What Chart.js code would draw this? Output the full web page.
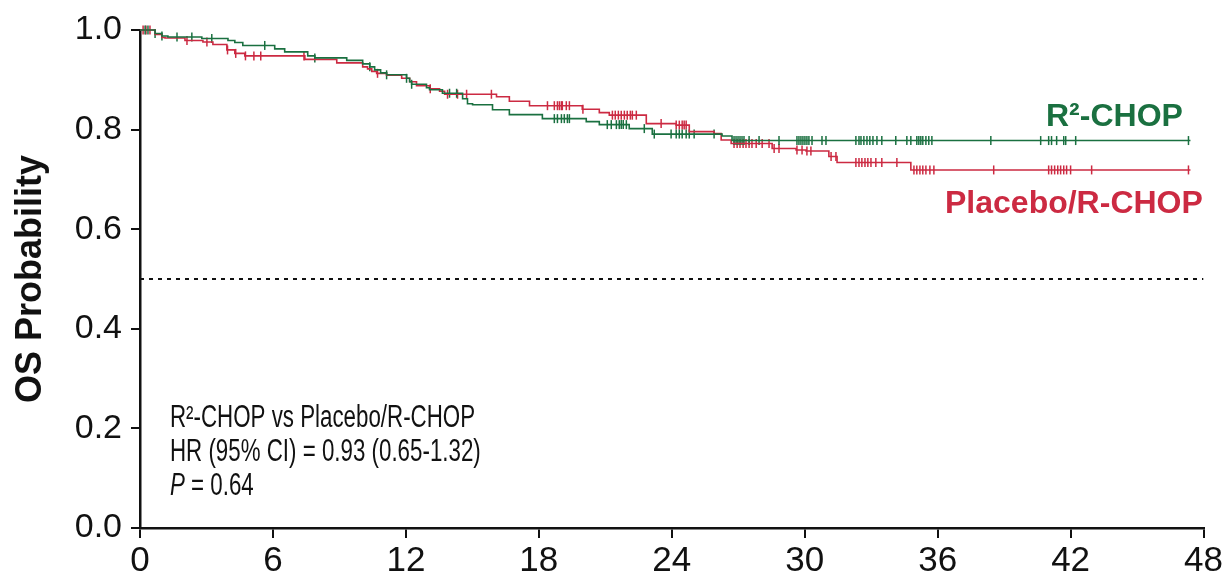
<!DOCTYPE html>
<html>
<head>
<meta charset="utf-8">
<script src="https://cdn.jsdelivr.net/npm/chart.js@4/dist/chart.umd.min.js"></script>
<style>
  html, body { margin: 0; padding: 0; background: #ffffff; }
  #wrap { width: 1225px; height: 581px; }
</style>
</head>
<body>
<div id="wrap"><canvas id="km" width="1225" height="581"></canvas></div>
<script>
// Kaplan-Meier overall survival, months since randomisation.
// Event times (months) and survival probability after each step.
const r2chopTimes = [0, 0.68, 0.99, 1.26, 2.79, 3.97, 4.28, 4.64, 6.08, 6.53, 7.57, 7.89, 9.33, 10.05, 10.37, 10.59, 10.86, 11.13, 12.03, 12.17, 12.26, 12.93, 13.07, 13.65, 14.56, 14.78, 15.01, 15.91, 16.67, 18.16, 20.14, 20.73, 22.08, 23.12, 26.27, 26.72, 47.41];
const r2chopSurv  = [1.0, 0.993, 0.988, 0.986, 0.983, 0.979, 0.975, 0.969, 0.962, 0.956, 0.948, 0.944, 0.939, 0.932, 0.926, 0.920, 0.914, 0.910, 0.903, 0.896, 0.891, 0.884, 0.880, 0.873, 0.862, 0.852, 0.850, 0.840, 0.830, 0.822, 0.816, 0.810, 0.802, 0.791, 0.787, 0.778, 0.778];

const placeboTimes = [0, 0.68, 0.99, 1.13, 2.03, 2.84, 3.29, 3.92, 4.28, 4.73, 7.44, 8.88, 10.05, 10.27, 10.46, 10.68, 11.13, 11.81, 12.17, 12.48, 13.07, 13.52, 13.75, 16.09, 16.67, 17.58, 19.96, 20.73, 21.18, 22.85, 24.20, 24.79, 25.91, 26.23, 26.68, 28.53, 29.61, 30.06, 31.09, 31.46, 34.79, 47.41];
const placeboSurv  = [1.0, 0.991, 0.985, 0.984, 0.979, 0.976, 0.971, 0.960, 0.953, 0.948, 0.941, 0.934, 0.926, 0.922, 0.917, 0.913, 0.909, 0.903, 0.896, 0.888, 0.882, 0.877, 0.871, 0.866, 0.857, 0.848, 0.841, 0.834, 0.829, 0.812, 0.809, 0.796, 0.792, 0.779, 0.772, 0.762, 0.759, 0.757, 0.746, 0.734, 0.719, 0.719];

// Censoring times (months)
const r2chopCensor = [0.23, 0.36, 0.68, 0.99, 1.67, 2.34, 3.24, 5.63, 7.89, 10.37, 11.13, 12.03, 12.26, 13.97, 14.29, 18.70, 18.84, 19.02, 19.15, 19.29, 19.38, 21.09, 21.27, 21.50, 21.63, 21.72, 21.81, 21.95, 22.76, 23.21, 23.97, 24.20, 24.34, 24.47, 24.65, 24.79, 25.01, 25.91, 26.81, 26.90, 26.99, 27.08, 27.17, 27.26, 27.49, 27.94, 28.84, 29.65, 29.74, 29.83, 29.92, 30.01, 30.10, 30.19, 30.33, 30.78, 30.96, 32.31, 32.45, 32.54, 32.67, 32.81, 32.94, 33.08, 33.26, 33.48, 34.11, 34.61, 34.79, 35.06, 35.15, 35.24, 35.33, 35.47, 35.60, 35.74, 38.40, 40.65, 41.01, 41.14, 41.37, 41.69, 41.78, 42.23, 47.32];
const placeboCensor = [0.14, 0.27, 0.45, 2.12, 3.02, 3.95, 4.32, 4.76, 5.14, 5.45, 7.40, 10.72, 13.10, 13.88, 14.33, 14.74, 15.86, 18.39, 18.70, 18.84, 18.93, 19.02, 19.06, 19.24, 19.38, 19.99, 21.32, 21.45, 21.59, 21.72, 21.86, 21.99, 22.13, 22.22, 22.40, 23.52, 24.20, 24.34, 24.47, 24.56, 24.65, 26.81, 26.95, 27.08, 27.22, 27.35, 27.49, 27.62, 27.81, 28.08, 28.39, 28.62, 28.84, 29.65, 29.88, 30.10, 30.28, 31.19, 31.41, 32.31, 32.45, 32.58, 32.72, 32.85, 32.99, 33.21, 33.48, 34.16, 34.93, 35.06, 35.20, 35.33, 35.47, 35.65, 35.83, 38.53, 41.01, 41.14, 41.28, 41.42, 41.55, 41.69, 41.82, 42.00, 42.95, 47.32];

const xTickValues = [0, 6, 12, 18, 24, 30, 36, 42, 48];
const yTickValues = [0, 0.2, 0.4, 0.6, 0.8, 1.0];
const medianLine = 0.5;

const GREEN = '#1a7040';
const RED = '#cc2a42';
const INK = '#111111';
const FONT = '"Liberation Sans", Arial, Helvetica, sans-serif';

function curvePoints(times, surv) {
  return times.map((t, i) => ({ x: t, y: surv[i] }));
}
// survival level of a curve at time t (value after the last step at or before t)
function survAt(times, surv, t) {
  let s = surv[0];
  for (let i = 0; i < times.length; i++) {
    if (times[i] <= t) s = surv[i]; else break;
  }
  return s;
}
function censorPoints(cens, times, surv) {
  return cens.map(t => ({ x: t, y: survAt(times, surv, t) }));
}

// Text drawn on top of the plot: arm labels and HR box
const annotations = {
  id: 'kmText',
  afterDraw(chart) {
    const ctx = chart.ctx;
    ctx.save();
    ctx.textBaseline = 'alphabetic';
    ctx.textAlign = 'left';

    ctx.font = 'bold 32px ' + FONT;
    ctx.fillStyle = GREEN;
    ctx.fillText('R²-CHOP', 1046, 126);
    ctx.fillStyle = RED;
    ctx.fillText('Placebo/R-CHOP', 945, 213);

    // condensed statistics block
    const sx = 0.72;
    const drawLine = (parts, x, y) => {
      ctx.save();
      ctx.translate(x, y);
      ctx.scale(sx, 1);
      let cx = 0;
      for (const p of parts) {
        ctx.font = p.font;
        ctx.fillText(p.text, cx, 0);
        cx += ctx.measureText(p.text).width;
      }
      ctx.restore();
    };
    ctx.fillStyle = INK;
    const reg = '31px ' + FONT;
    drawLine([{ text: 'R²-CHOP vs Placebo/R-CHOP', font: reg }], 170, 427);
    drawLine([{ text: 'HR (95% CI) = 0.93 (0.65-1.32)', font: reg }], 170, 461);
    drawLine([{ text: 'P', font: 'italic 31px ' + FONT }, { text: ' = 0.64', font: reg }], 170, 495);
    ctx.restore();
  }
};

new Chart(document.getElementById('km'), {
  type: 'scatter',
  data: {
    datasets: [
      {
        label: 'R²-CHOP',
        data: curvePoints(r2chopTimes, r2chopSurv),
        showLine: true, stepped: 'before',
        borderColor: GREEN, borderWidth: 1.6,
        pointRadius: 0, clip: false
      },
      {
        label: 'Placebo/R-CHOP',
        data: curvePoints(placeboTimes, placeboSurv),
        showLine: true, stepped: 'before',
        borderColor: RED, borderWidth: 1.6,
        pointRadius: 0, clip: false
      },
      {
        label: 'R²-CHOP censored',
        data: censorPoints(r2chopCensor, r2chopTimes, r2chopSurv),
        showLine: false,
        pointStyle: 'line', rotation: 90, pointRadius: 4.5,
        borderColor: GREEN, pointBorderWidth: 1.5, clip: false
      },
      {
        label: 'Placebo/R-CHOP censored',
        data: censorPoints(placeboCensor, placeboTimes, placeboSurv),
        showLine: false,
        pointStyle: 'line', rotation: 90, pointRadius: 4.5,
        borderColor: RED, pointBorderWidth: 1.5, clip: false
      },
      {
        label: 'median',
        data: [{ x: xTickValues[0], y: medianLine }, { x: xTickValues[xTickValues.length - 1], y: medianLine }],
        showLine: true, borderColor: INK, borderWidth: 2, borderDash: [4, 5],
        pointRadius: 0
      }
    ]
  },
  options: {
    responsive: false,
    animation: false,
    devicePixelRatio: 1,
    layout: { padding: { top: 30, right: 20, bottom: 0, left: 0 } },
    plugins: { legend: { display: false }, tooltip: { enabled: false } },
    scales: {
      x: {
        type: 'linear', min: 0, max: 48,
        afterFit(scale) { scale.height = 53; },
        afterBuildTicks(scale) { scale.ticks = xTickValues.map(v => ({ value: v })); },
        ticks: { color: INK, font: { family: FONT, size: 35 }, padding: 2, maxRotation: 0, autoSkip: false },
        grid: { drawOnChartArea: false, drawTicks: true, tickLength: 10, color: INK, lineWidth: 2 },
        border: { display: true, color: INK, width: 2.5 }
      },
      y: {
        type: 'linear', min: 0, max: 1,
        afterFit(scale) { scale.width = 140; },
        afterBuildTicks(scale) { scale.ticks = yTickValues.map(v => ({ value: v })); },
        ticks: { color: INK, font: { family: FONT, size: 34 }, padding: 9, callback: v => Number(v).toFixed(1) },
        grid: { drawOnChartArea: false, drawTicks: true, tickLength: 9, color: INK, lineWidth: 2 },
        border: { display: true, color: INK, width: 2.5 },
        title: {
          display: true, text: 'OS Probability', color: INK,
          font: { family: FONT, size: 36, weight: 'bold' },
          padding: { top: 9, bottom: 0 }
        }
      }
    }
  },
  plugins: [annotations]
});
</script>
</body>
</html>
